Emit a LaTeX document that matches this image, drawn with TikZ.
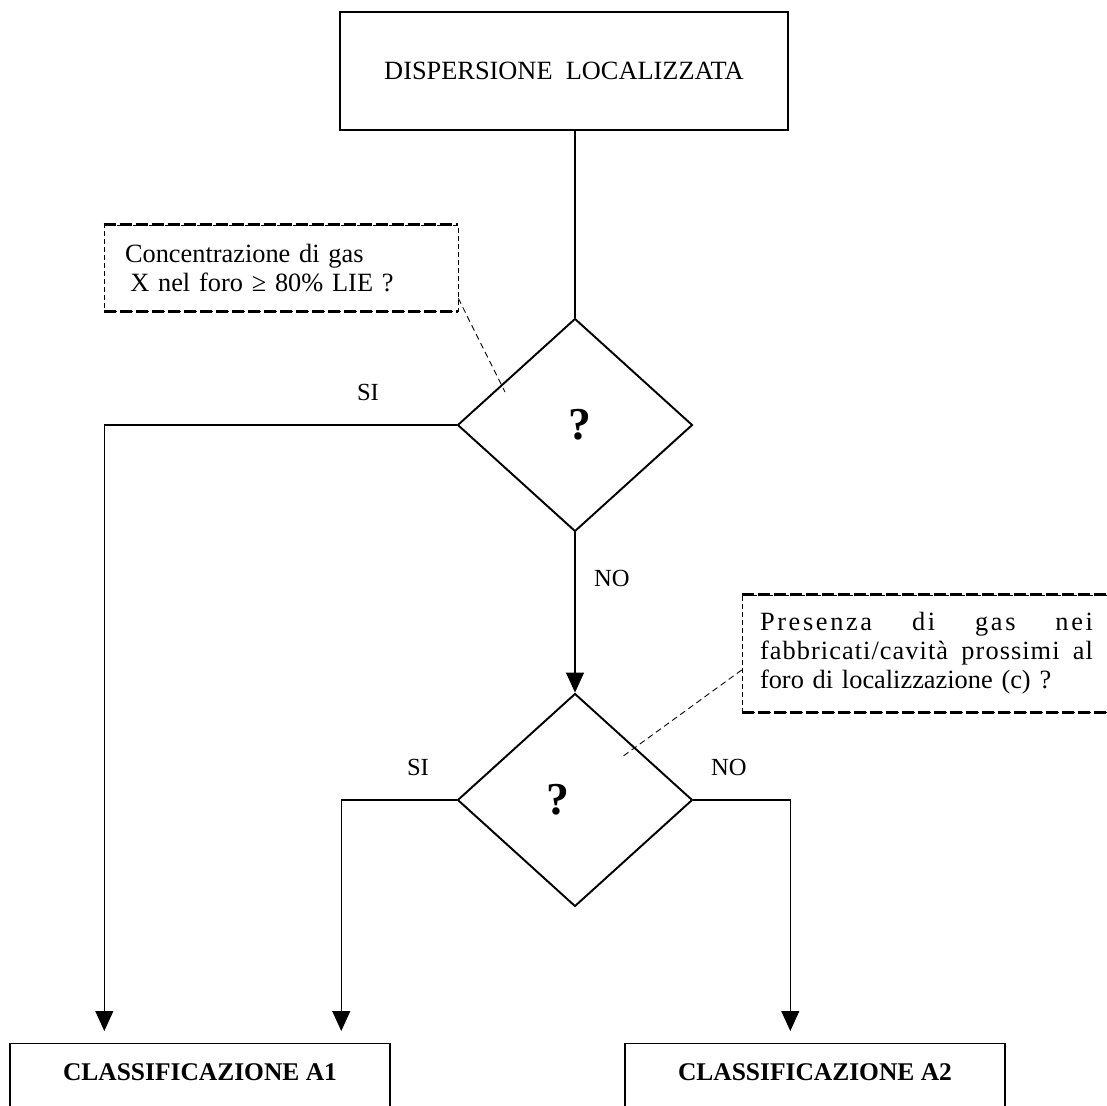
\documentclass[tikz,border=0pt]{standalone}
\usepackage{fontspec}
\setmainfont{Liberation Serif}
\usetikzlibrary{shapes.geometric,arrows.meta}

\begin{document}
\begin{tikzpicture}[x=0.02cm, y=-0.02cm,
  box/.style = {draw, line width=0.8pt, font=\fontsize{15}{17}\selectfont},
  ask/.style = {draw, diamond, line width=1.1pt, minimum width=4.7cm, minimum height=4.26cm, inner sep=0pt, font=\fontsize{26}{28}\selectfont\bfseries},
  note/.style = {draw, dash pattern=on 0.1cm off 0.06cm, line width=0.4pt, align=left, font=\fontsize{15}{16.5}\selectfont},
  rim/.style = {dash pattern=on 0.24cm off 0.08cm, line width=1.7pt},
  lab/.style = {font=\fontsize{14}{16}\selectfont},
  link/.style = {line width=0.6pt, -{Triangle[width=0.36cm,length=0.4cm]}},
  lead/.style = {dash pattern=on 0.12cm off 0.08cm, line width=0.5pt}]
\useasboundingbox (0,0) rectangle (1107,1106);
\clip (0,0) rectangle (1107,1106);
\node[box, minimum width=8.96cm, minimum height=2.36cm] (top) at (564,71) {DISPERSIONE\ \ LOCALIZZATA};
\node[ask] (q1) at (575,425) {\hspace*{0.2cm}?};
\node[ask] (q2) at (575,800) {\hspace*{-0.68cm}?};
\node[box, font=\fontsize{14.5}{16.5}\selectfont\bfseries, minimum width=7.6cm, anchor=north, inner ysep=0.4cm, text depth=1.5cm] (a1) at (200,1043) {CLASSIFICAZIONE A1};
\node[box, font=\fontsize{14.5}{16.5}\selectfont\bfseries, minimum width=7.6cm, anchor=north, inner ysep=0.4cm, text depth=1.5cm] (a2) at (815,1043) {CLASSIFICAZIONE A2};
\node[note, text width=6.24cm, inner xsep=0.42cm, minimum height=1.72cm] (n1) at (281,268) {Concentrazione di gas\\ \hspace*{0.2em}X nel foro ≥ 80\% LIE ?};
\node[note, text width=6.66cm, inner xsep=0.36cm, minimum height=2.34cm] (n2) at (926.5,653.5) {\makebox[6.66cm][l]{\addfontfeatures{LetterSpace=10}Presenza\hfill di\hfill gas\hfill nei}\\ \makebox[6.66cm][l]{\addfontfeatures{LetterSpace=4}fabbricati/cavità\hfill prossimi\hfill al}\\ foro di localizzazione (c) ?};
\draw[rim] (n1.north west) -- (n1.north east);
\draw[rim] (n1.south west) -- (n1.south east);
\draw[rim] (n2.north west) -- (n2.north east);
\draw[rim] (n2.south west) -- (n2.south east);
\node[lab] (si1) at (368,392) {SI};
\node[lab] (no1) at (612,578) {NO};
\node[lab] (si2) at (418,767) {SI};
\node[lab] (no2) at (729,767) {NO};
\draw[line width=0.6pt] (q1.north) -- (q1.north |- top.south);
\draw[link] (q1.south) -- (q2.north);
\draw[link, shorten >=0.24cm] (q1.west) -| ([xshift=1.9cm]a1.north west);
\draw[link, shorten >=0.24cm] (q2.west) -| ([xshift=6.64cm]a1.north west);
\draw[link, shorten >=0.24cm] (q2.east) -| ([xshift=3.32cm]a2.north west);
\coordinate (p1) at (505,392);
\coordinate (p2) at (622,757);
\draw[lead] ([yshift=0.26cm]n1.south east) -- (p1);
\draw[lead] ([yshift=-0.33cm]n2.west) -- (p2);
\end{tikzpicture}
\end{document}
